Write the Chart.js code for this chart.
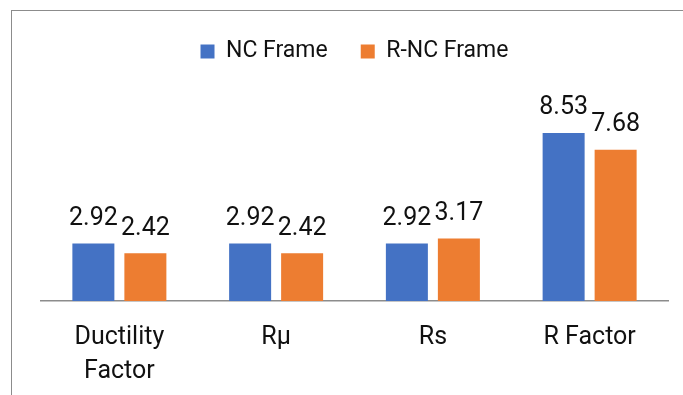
<!DOCTYPE html>
<html>
<head>
<meta charset="utf-8">
<script src="https://cdn.jsdelivr.net/npm/chart.js@4"></script>
<style>
  html, body { margin: 0; padding: 0; background: #fff; overflow: hidden; width: 683px; height: 395px; }
  #frame { position: absolute; left: 11px; top: 10px; width: 720px; height: 420px; border: 1px solid #8c8c8c; box-sizing: border-box; }
  #c { position: absolute; left: 12px; top: 11px; }
</style>
</head>
<body>
<div id="frame"></div>
<canvas id="c" width="694" height="400"></canvas>
<script>
// Seismic response parameters of the two frames
const categories = [["Ductility", "Factor"], "Rμ", "Rs", "R Factor"];
const ncFrame = [2.92, 2.92, 2.92, 8.53];
const rncFrame = [2.42, 2.42, 3.17, 7.68];
const seriesNames = ["NC Frame", "R-NC Frame"];

const FONT = "Roboto, 'Liberation Sans', sans-serif";

// Value written above each bar
const valueLabels = {
  id: "valueLabels",
  afterDatasetsDraw(chart) {
    const ctx = chart.ctx;
    ctx.save();
    ctx.font = "25px " + FONT;
    ctx.fillStyle = "#111";
    ctx.textAlign = "center";
    ctx.textBaseline = "alphabetic";
    chart.data.datasets.forEach((ds, i) => {
      chart.getDatasetMeta(i).data.forEach((bar, j) => {
        ctx.fillText(ds.data[j].toFixed(2), bar.x, bar.y - 18.5);
      });
    });
    ctx.restore();
  }
};

// Extra room between the legend and the plot area
const legendGap = {
  id: "legendGap",
  beforeInit(chart) {
    const fit = chart.legend.fit;
    chart.legend.fit = function () {
      fit.call(this);
      this.height += 31;
    };
  }
};

new Chart(document.getElementById("c"), {
  type: "bar",
  data: {
    labels: categories,
    datasets: [
      { label: seriesNames[0], data: ncFrame, backgroundColor: "#4472C4" },
      { label: seriesNames[1], data: rncFrame, backgroundColor: "#ED7D31" }
    ]
  },
  options: {
    responsive: false,
    devicePixelRatio: 1,
    animation: false,
    categoryPercentage: 0.6635,
    barPercentage: 0.8077,
    layout: { padding: { left: 29, right: 38, top: -4, bottom: 2 } },
    plugins: {
      legend: {
        position: "top",
        labels: {
          boxWidth: 14,
          boxHeight: 14,
          padding: 33,
          color: "#111",
          font: { family: FONT, size: 23 }
        }
      },
      tooltip: { enabled: false }
    },
    scales: {
      x: {
        grid: { display: false, drawTicks: false },
        border: { display: true, color: "#8c8c8c", width: 1.5 },
        ticks: {
          color: "#111",
          padding: 20,
          maxRotation: 0,
          autoSkip: false,
          font: { family: FONT, size: 25, lineHeight: 1.36 }
        }
      },
      y: {
        display: false,
        min: 0,
        max: 10
      }
    }
  },
  plugins: [valueLabels, legendGap]
});
</script>
</body>
</html>
